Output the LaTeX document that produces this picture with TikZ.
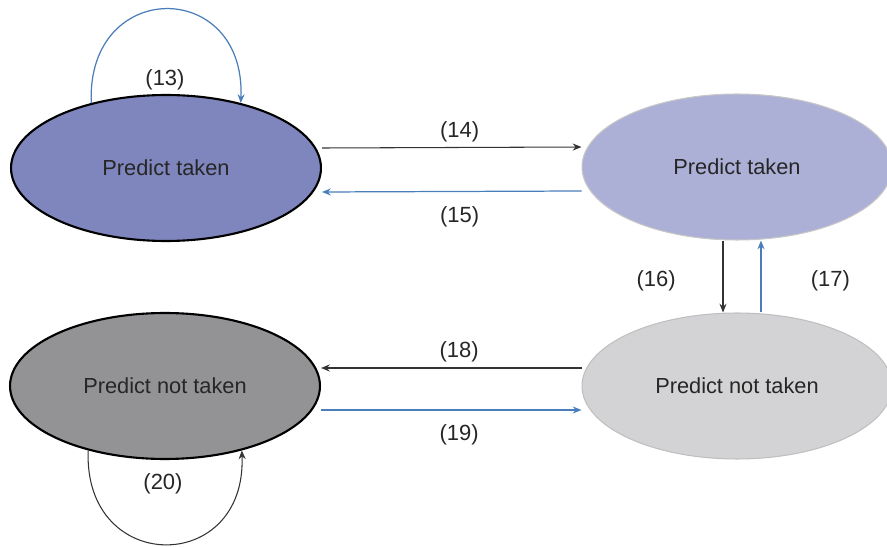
\documentclass[tikz,border=0pt]{standalone}
\usepackage{fontspec}
\setmainfont{Liberation Sans}
\usetikzlibrary{arrows.meta,shapes.geometric}

\definecolor{strongtaken}{HTML}{7F86BD}
\definecolor{weaktaken}{HTML}{ADB0D6}
\definecolor{strongnot}{HTML}{939395}
\definecolor{weaknot}{HTML}{D3D3D5}
\definecolor{arrowblue}{HTML}{4A7EBB}
\definecolor{arrowblack}{HTML}{333333}

\begin{document}
\begin{tikzpicture}
	[x=0.02cm,y=0.02cm,
		state/.style={ellipse,inner sep=0pt,minimum width=6.2cm,minimum height=2.92cm,
		text=black!85,font=\fontsize{12.4}{14}\selectfont},
		strong/.style={state,draw=black,line width=1.2pt},
		weak/.style={state,draw=#1,line width=0.6pt},
		lab/.style={text=black!85,font=\fontsize{12.5}{15}\selectfont,inner sep=1pt},
		blk/.style={draw=arrowblack,line width=0.6pt,-{Stealth[length=5pt,width=4pt]}},
		blu/.style={draw=arrowblue,line width=0.7pt,-{Stealth[length=5pt,width=4pt]}}]
	\useasboundingbox (0,0) rectangle (887,-547);

	\node (st) at (166,-168) [strong,fill=strongtaken] {Predict taken};
	\node (wt) at (737,-167) [weak=black!22,fill=weaktaken] {Predict taken};
	\node (sn) at (165,-386) [strong,fill=strongnot] {Predict not taken};
	\node (wn) at (737,-386) [weak=black!25,fill=weaknot] {Predict not taken};

%	self loops
	\draw[blu] (st.139) .. controls +(-5,125) and +(5,125) .. (st.41);
	\node (lab13) at (165,-80) [lab] {(13)};
	\draw[blk] (sn.220) .. controls +(-5,-125) and +(5,-125) .. (sn.320);
	\node (lab20) at (163,-484) [lab] {(20)};

%	top row
	\draw[blk] ([yshift=0.4cm]st.east) -- node[lab,above=2pt,pos=0.53] (lab14) {(14)}
		([yshift=0.4cm]wt.west);
	\draw[blu] ([yshift=-0.48cm]wt.west) -- node[lab,below=7pt,pos=0.47] (lab15) {(15)}
		([yshift=-0.48cm]st.east);

%	right column
	\draw[blk] ([xshift=-0.28cm]wt.south) -- node[lab,left=0.9cm,pos=0.56] (lab16) {(16)}
		([xshift=-0.28cm]wn.north);
	\draw[blu] ([xshift=0.48cm]wn.north) -- node[lab,right=0.95cm,pos=0.44] (lab17) {(17)}
		([xshift=0.48cm]wt.south);

%	bottom row
	\draw[blk] ([yshift=0.36cm]wn.west) -- node[lab,above=2pt,pos=0.47] (lab18) {(18)}
		([yshift=0.36cm]sn.east);
	\draw[blu] ([yshift=-0.48cm]sn.east) -- node[lab,below=7pt,pos=0.53] (lab19) {(19)}
		([yshift=-0.48cm]wn.west);
\end{tikzpicture}
\end{document}
